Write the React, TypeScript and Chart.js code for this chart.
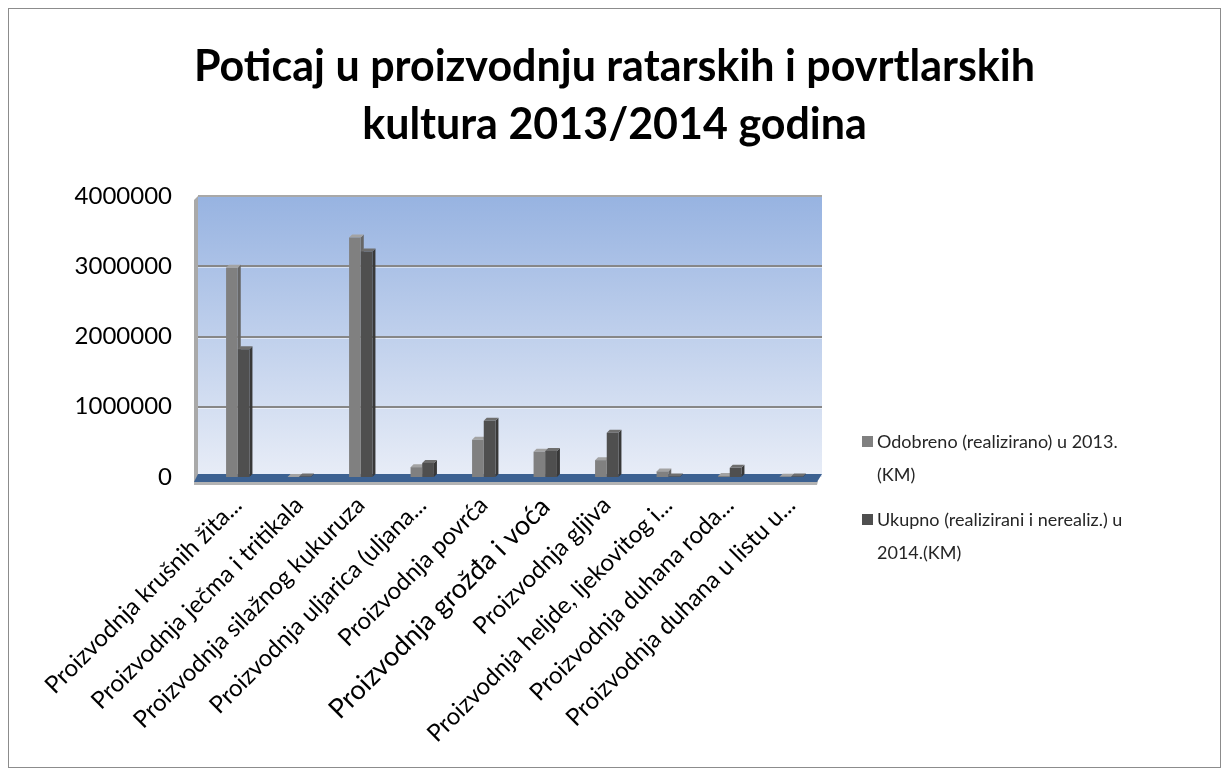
import React, { useEffect, useRef } from "react";
import { Chart, registerables } from "chart.js";
Chart.register(...registerables);

const categories = [
  "Proizvodnja krušnih žita...",
  "Proizvodnja ječma i tritikala",
  "Proizvodnja silažnog kukuruza",
  "Proizvodnja uljarica (uljana...",
  "Proizvodnja povrća",
  "Proizvodnja grožđa i voća",
  "Proizvodnja gljiva",
  "Proizvodnja heljde, ljekovitog i...",
  "Proizvodnja duhana roda...",
  "Proizvodnja duhana u listu u...",
];
const odobreno = [2980000, 0, 3410000, 140000, 530000, 360000, 240000, 80000, 15000, 5000];
const ukupno = [1820000, 8000, 3210000, 200000, 800000, 370000, 630000, 8000, 130000, 8000];
const seriesNames = [
  "Odobreno (realizirano) u 2013. (KM)",
  "Ukupno (realizirani i nerealiz.) u 2014.(KM)",
];
const legendLines = [
  ["Odobreno (realizirano) u 2013.", "(KM)"],
  ["Ukupno (realizirani i nerealiz.) u", "2014.(KM)"],
];
const titleLines = ["Poticaj u proizvodnju ratarskih i povrtlarskih", "kultura 2013/2014 godina"];
const yMax = 4000000;
const yStep = 1000000;

const frontColors = ["#808080", "#4f4f4f"];
const topColors = ["#a3a3a3", "#6e6e6e"];
const sideColors = ["#666666", "#383838"];

const FONT = "Lato, 'Open Sans', sans-serif";

const scenePlugin = {
  id: "scene3d",
  beforeDatasetsDraw(chart: any) {
    const { ctx, chartArea } = chart;
    const { left, right, top, bottom } = chartArea;
    const y = chart.scales.y;
    const W = 9;
    ctx.save();
    // left wall
    ctx.fillStyle = "#a9a9a9";
    ctx.beginPath();
    ctx.moveTo(left - W, top);
    ctx.lineTo(left - W - 4, top + 4);
    ctx.lineTo(left - W - 4, bottom + 6);
    ctx.lineTo(left - W, bottom + 2);
    ctx.closePath();
    ctx.fill();
    // back plane gradient
    const g = ctx.createLinearGradient(0, top, 0, bottom);
    g.addColorStop(0, "#97b3e1");
    g.addColorStop(1, "#e8edf7");
    ctx.fillStyle = g;
    ctx.fillRect(left - W, top, right - (left - W), bottom - top);
    // top border
    ctx.strokeStyle = "#a8a8a8";
    ctx.lineWidth = 2;
    ctx.beginPath();
    ctx.moveTo(left - W, top);
    ctx.lineTo(right, top);
    ctx.stroke();
    // grid lines
    for (let v = yStep; v < yMax; v += yStep) {
      const py = Math.round(y.getPixelForValue(v));
      ctx.strokeStyle = "#878787";
      ctx.lineWidth = 2;
      ctx.beginPath();
      ctx.moveTo(left - W, py);
      ctx.lineTo(right, py);
      ctx.stroke();
      ctx.strokeStyle = "rgba(255,255,255,0.5)";
      ctx.lineWidth = 1;
      ctx.beginPath();
      ctx.moveTo(left - W, py + 1.5);
      ctx.lineTo(right, py + 1.5);
      ctx.stroke();
    }
    // floor
    const y0 = y.getPixelForValue(0);
    ctx.fillStyle = "#b3b3b3";
    ctx.beginPath();
    ctx.moveTo(left - W - 4, y0 + 4);
    ctx.lineTo(right - 4, y0 + 4);
    ctx.lineTo(right - 5, y0 + 8);
    ctx.lineTo(left - W - 4, y0 + 8);
    ctx.closePath();
    ctx.fill();
    ctx.fillStyle = "#3c6191";
    ctx.beginPath();
    ctx.moveTo(left - W, y0 - 3);
    ctx.lineTo(right, y0 - 3);
    ctx.lineTo(right - 5, y0 + 5);
    ctx.lineTo(left - W - 4, y0 + 5);
    ctx.closePath();
    ctx.fill();
    // bar depth faces
    const d = 3;
    chart.data.datasets.forEach((_: any, di: number) => {
      const meta = chart.getDatasetMeta(di);
      meta.data.forEach((bar: any) => {
        const bl = bar.x - bar.width / 2;
        const br = bar.x + bar.width / 2;
        const bt = bar.y;
        const bb = bar.base;
        ctx.fillStyle = sideColors[di];
        ctx.beginPath();
        ctx.moveTo(br, bt);
        ctx.lineTo(br + d, bt - d);
        ctx.lineTo(br + d, bb - d);
        ctx.lineTo(br, bb);
        ctx.closePath();
        ctx.fill();
        ctx.fillStyle = topColors[di];
        ctx.beginPath();
        ctx.moveTo(bl, bt);
        ctx.lineTo(bl + d, bt - d);
        ctx.lineTo(br + d, bt - d);
        ctx.lineTo(br, bt);
        ctx.closePath();
        ctx.fill();
      });
    });
    ctx.restore();
  },
  afterDraw(chart: any) {
    const { ctx } = chart;
    ctx.save();
    // title
    ctx.fillStyle = "#000";
    ctx.font = `bold 43px ${FONT}`;
    ctx.textAlign = "center";
    ctx.textBaseline = "alphabetic";
    const cx = chart.width / 2;
    titleLines.forEach((t, i) => ctx.fillText(t, cx, 72 + i * 58));
    // legend
    ctx.font = `18px ${FONT}`;
    ctx.textBaseline = "middle";
    ctx.textAlign = "left";
    const x0 = 853;
    const starts = [433, 511];
    legendLines.forEach((lines, i) => {
      ctx.fillStyle = frontColors[i];
      ctx.fillRect(x0, starts[i] - 6, 11, 11);
      ctx.fillStyle = "#262626";
      lines.forEach((t, j) => {
        ctx.fillText(t, x0 + 15, starts[i] + j * 33);
      });
    });
    ctx.restore();
  },
};

export default function App() {
  const ref = useRef<HTMLCanvasElement | null>(null);
  useEffect(() => {
    if (!ref.current) return;
    const chart = new Chart(ref.current, {
      type: "bar",
      data: {
        labels: categories,
        datasets: [
          { label: seriesNames[0], data: odobreno, backgroundColor: frontColors[0], categoryPercentage: 0.38, barPercentage: 1 },
          { label: seriesNames[1], data: ukupno, backgroundColor: frontColors[1], categoryPercentage: 0.38, barPercentage: 1 },
        ],
      },
      options: {
        responsive: false,
        animation: false,
        layout: { padding: { left: 0, right: 398, top: 187, bottom: 0 } },
        plugins: {
          legend: { display: false },
          tooltip: { enabled: false },
          title: { display: false },
        },
        scales: {
          x: {
            grid: { display: false },
            border: { display: false },
            ticks: {
              autoSkip: false,
              maxRotation: 45,
              minRotation: 45,
              color: "#000",
              padding: 6,
              font: (c: any) => ({ family: FONT, size: c.index === 5 ? 27 : 24 }),
            },
            afterFit: (s: any) => { s.height = 290; },
          },
          y: {
            min: 0,
            max: yMax,
            grid: { display: false },
            border: { display: false },
            ticks: {
              stepSize: yStep,
              color: "#000",
              padding: 27,
              font: { family: FONT, size: 24 },
              callback: (v: any) => String(v),
            },
            afterFit: (s: any) => { s.width = 198; },
          },
        },
      },
      plugins: [scenePlugin],
    });
    return () => chart.destroy();
  }, []);
  return (
    <div style={{ width: 1211, height: 758, border: "1px solid #8c8c8c", background: "#fff" }}>
      <canvas ref={ref} width={1211} height={758} style={{ display: "block" }} />
    </div>
  );
}
